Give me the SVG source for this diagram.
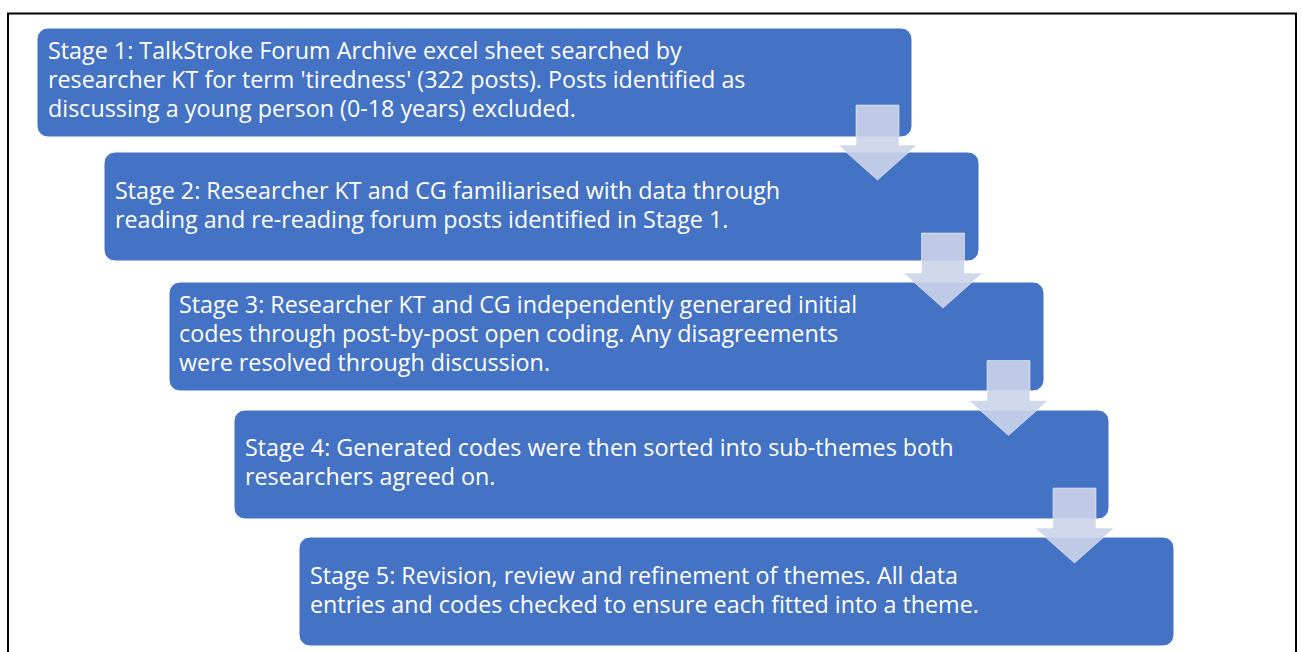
<svg xmlns="http://www.w3.org/2000/svg" width="1302" height="652" viewBox="0 0 1302 652">
  <defs>
    <style>
      .stage { fill: #4472C4; stroke: #ffffff; stroke-width: 1; }
      .label { font-family: "Open Sans", "Noto Sans", "Liberation Sans", sans-serif; font-size: 23.3px; fill: #ffffff; }
      .flow { fill: #CDD4EA; fill-opacity: 0.9; stroke: #ffffff; stroke-opacity: 0.5; stroke-width: 1; }
    </style>
    <path id="down-arrow" d="M0,0 H43 V40 H61 L21.5,75 L-18,40 H0 Z"/>
  </defs>
  <rect width="1302" height="652" fill="#ffffff"/>

  <!-- outer frame, open at the bottom -->
  <path d="M8,660 V13.5 H1296 V660" fill="none" stroke="#000000" stroke-width="2"/>

  <g id="stage1">
    <rect class="stage" x="37" y="28" width="875" height="109" rx="11"/>
    <text class="label">
      <tspan x="48" y="59">Stage 1: TalkStroke Forum Archive excel sheet searched by</tspan>
      <tspan x="48" y="88">researcher KT for term 'tiredness' (322 posts). Posts identified as</tspan>
      <tspan x="48" y="117">discussing a young person (0-18 years) excluded.</tspan>
    </text>
  </g>

  <g id="stage2">
    <rect class="stage" x="104" y="152" width="875" height="109" rx="11"/>
    <text class="label">
      <tspan x="115" y="199">Stage 2: Researcher KT and CG familiarised with data through</tspan>
      <tspan x="115" y="228">reading and re-reading forum posts identified in Stage 1.</tspan>
    </text>
  </g>

  <g id="stage3">
    <rect class="stage" x="169" y="282" width="875" height="109" rx="11"/>
    <text class="label">
      <tspan x="179" y="313">Stage 3: Researcher KT and CG independently generared initial</tspan>
      <tspan x="179" y="342">codes through post-by-post open coding. Any disagreements</tspan>
      <tspan x="179" y="371">were resolved through discussion.</tspan>
    </text>
  </g>

  <g id="stage4">
    <rect class="stage" x="234" y="410" width="875" height="109" rx="11"/>
    <text class="label">
      <tspan x="245" y="456">Stage 4: Generated codes were then sorted into sub-themes both</tspan>
      <tspan x="245" y="485">researchers agreed on.</tspan>
    </text>
  </g>

  <g id="stage5">
    <rect class="stage" x="299" y="537" width="875" height="109" rx="11"/>
    <text class="label">
      <tspan x="310" y="584">Stage 5: Revision, review and refinement of themes. All data</tspan>
      <tspan x="310" y="613">entries and codes checked to ensure each fitted into a theme.</tspan>
    </text>
  </g>

  <g id="connectors">
    <use href="#down-arrow" class="flow" x="856" y="105"/>
    <use href="#down-arrow" class="flow" x="921.5" y="233"/>
    <use href="#down-arrow" class="flow" x="987" y="360.5"/>
    <use href="#down-arrow" class="flow" x="1053" y="488"/>
  </g>
</svg>
